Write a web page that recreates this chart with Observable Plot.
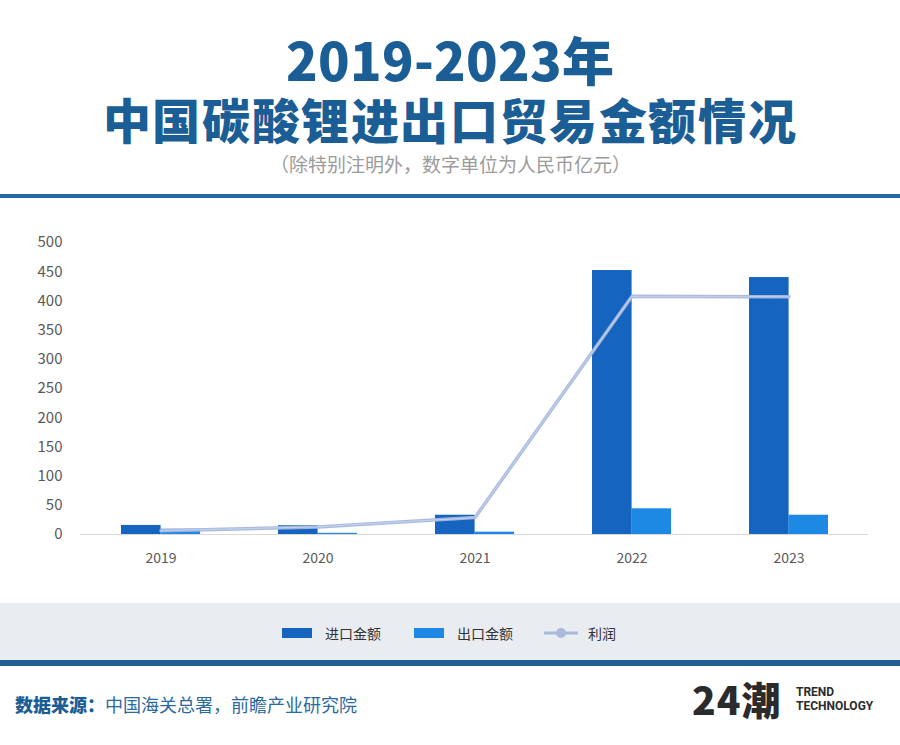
<!DOCTYPE html>
<html>
<head>
<meta charset="utf-8">
<script src="https://cdn.jsdelivr.net/npm/d3@7"></script>
<script src="https://cdn.jsdelivr.net/npm/@observablehq/plot@0.6"></script>
<style>
  @font-face {
    font-family: "TitleCJK";
    src: local("Noto Sans CJK SC Black"), local("NotoSansCJKsc-Black"), local("Noto Sans CJK SC Bold"), local("NotoSansCJKsc-Bold");
    font-weight: 900;
    ascent-override: 88%;
    descent-override: 12%;
    line-gap-override: 0%;
  }
  @font-face {
    font-family: "SubCJK";
    src: local("Noto Sans CJK SC Regular"), local("NotoSansCJKsc-Regular"), local("Noto Sans CJK SC");
    font-weight: 400;
    ascent-override: 88%;
    descent-override: 12%;
    line-gap-override: 0%;
  }
  html, body { margin: 0; padding: 0; background: #fff; }
  body { font-family: "Noto Sans CJK SC", "Noto Sans", sans-serif; }
  #page { position: relative; width: 900px; height: 745px; overflow: hidden; background: #fff; }
  .abs { position: absolute; }
  #t1, #t2 { left: 0; width: 900px; text-align: center; color: #1b5e95; font-weight: 900; line-height: 1; font-family: "TitleCJK", "Noto Sans CJK SC", sans-serif; }
  #t1 { top: 35px; font-size: 52px; letter-spacing: 0px; }
  #t2 { top: 97px; font-size: 48px; letter-spacing: 1.6px; }
  #sub { top: 155px; left: 0; width: 900px; text-align: center; color: #9b9b9b; font-size: 19px; line-height: 1; font-family: "SubCJK", "Noto Sans CJK SC", sans-serif; }
  #rule1 { top: 194px; left: 0; width: 900px; height: 4px; background: #2668a0; }
  #chart { top: 230px; left: 0; }
  #legendband { top: 603px; left: 0; width: 900px; height: 57px; background: #e9edf2; }
  #rule2 { top: 660px; left: 0; width: 900px; height: 6px; background: #1f5f94; }
  .leg { top: 624px; font-size: 14px; color: #333; line-height: 18px; }
  .sw { width: 30px; height: 10px; top: 628px; }
  #src { top: 692px; left: 15px; font-size: 18px; line-height: 24px; color: #2a6aa0; }
  #src b { color: #1b5e95; font-weight: 900; }
  #logo { top: 679px; left: 692px; font-size: 39px; font-weight: 900; color: #2b2b2b; line-height: 1; letter-spacing: 1px; }
  #logo2 { top: 685px; left: 796px; font-size: 12px; font-weight: 700; color: #2b2b2b; line-height: 14px; font-family: "Roboto", "Liberation Sans", sans-serif; }
</style>
</head>
<body>
<div id="page">
  <div id="t1" class="abs">2019-2023年</div>
  <div id="t2" class="abs">中国碳酸锂进出口贸易金额情况</div>
  <div id="sub" class="abs">（除特别注明外，数字单位为人民币亿元）</div>
  <div id="rule1" class="abs"></div>
  <div id="chart" class="abs"></div>
  <div id="legendband" class="abs"></div>
  <div class="abs sw" style="left:282px;background:#1565c0;"></div>
  <div class="abs leg" style="left:325px;">进口金额</div>
  <div class="abs sw" style="left:414px;background:#1e88e5;"></div>
  <div class="abs leg" style="left:457px;">出口金额</div>
  <svg class="abs" style="left:543px;top:624px;" width="36" height="18">
    <line x1="1" y1="9" x2="35" y2="9" stroke="#aab9dc" stroke-width="3"/>
    <circle cx="18" cy="9" r="5" fill="#aab9dc"/>
  </svg>
  <div class="abs leg" style="left:588px;">利润</div>
  <div id="rule2" class="abs"></div>
  <div id="src" class="abs"><b>数据来源：</b>中国海关总署，前瞻产业研究院</div>
  <div id="logo" class="abs">24潮</div>
  <div id="logo2" class="abs">TREND<br>TECHNOLOGY</div>
</div>
<script>
const years = ["2019", "2020", "2021", "2022", "2023"];
const importValues = [15.5, 15, 33, 452, 440];
const exportValues = [9, 2, 4, 44, 33];
const profitValues = [6.5, 13, 29, 408, 407];
const yTicks = [0, 50, 100, 150, 200, 250, 300, 350, 400, 450, 500];

const importData = years.map((y, i) => ({year: y, value: importValues[i]}));
const exportData = years.map((y, i) => ({year: y, value: exportValues[i]}));
const profitData = years.map((y, i) => ({year: y, value: profitValues[i]}));

const W = 900, ML = 80, MR = 32;
const step = (W - ML - MR) / 5;
const half = step * 0.5 / 2;

const chart = Plot.plot({
  width: W,
  height: 344,
  marginLeft: ML,
  marginRight: MR,
  marginTop: 12,
  marginBottom: 40,
  style: {fontFamily: "'Noto Sans CJK SC', 'Noto Sans', sans-serif", color: "#595959", background: "transparent"},
  x: {domain: years, paddingInner: 0.5, paddingOuter: 0.25, label: null},
  y: {domain: [0, 500], label: null},
  marks: [
    Plot.ruleY([0], {stroke: "#d9d9d9", strokeWidth: 1}),
    Plot.barY(importData, {x: "year", y: "value", fill: "#1565c0", insetRight: half}),
    Plot.barY(exportData, {x: "year", y: "value", fill: "#1e88e5", insetLeft: half}),
    Plot.line(profitData, {x: "year", y: "value", stroke: "#a8b6da", strokeWidth: 3.5, strokeOpacity: 0.95}),
    Plot.line(profitData, {x: "year", y: "value", stroke: "#c3d6f2", strokeWidth: 1.2, strokeOpacity: 0.8}),
    Plot.axisY({ticks: yTicks, tickSize: 0, tickPadding: 18, fontSize: 15, fill: "#595959"}),
    Plot.axisX({tickSize: 0, tickPadding: 19, fontSize: 14, fill: "#595959"})
  ]
});
document.getElementById("chart").appendChild(chart);
</script>
</body>
</html>
